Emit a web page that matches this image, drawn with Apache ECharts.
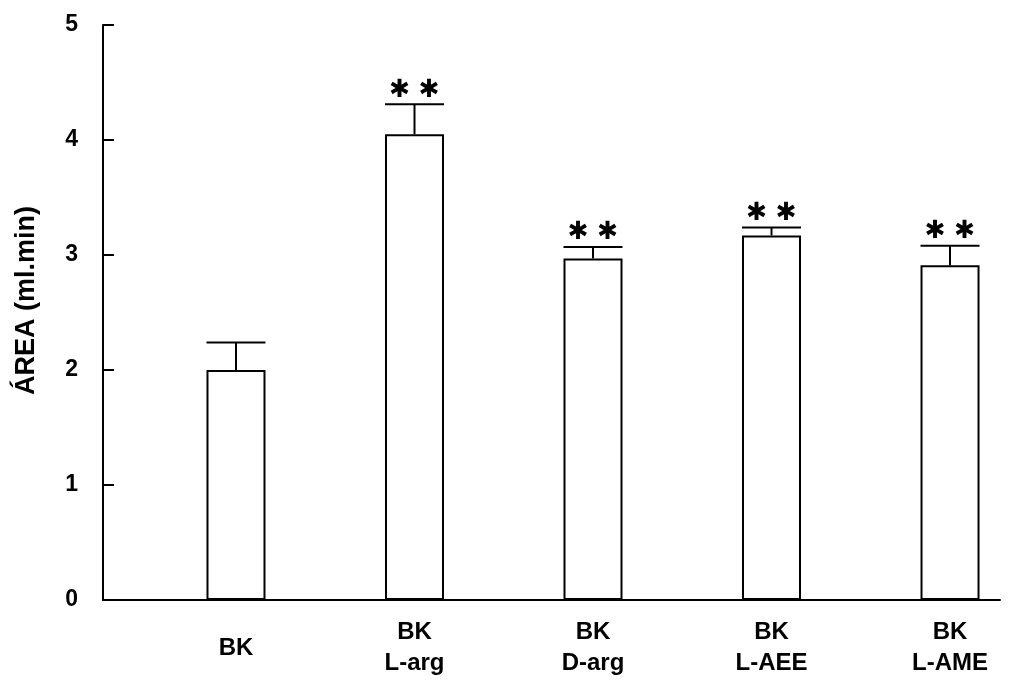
<!DOCTYPE html>
<html>
<head>
<meta charset="utf-8">
<script src="https://cdn.jsdelivr.net/npm/echarts@6/dist/echarts.min.js"></script>
<style>html,body{margin:0;padding:0;background:#fff;}#c{width:1011px;height:683px;}</style>
</head>
<body>
<div id="c"></div>
<script>
const categories = ['BK', 'BK\nL-arg', 'BK\nD-arg', 'BK\nL-AEE', 'BK\nL-AME'];
const values = [2.0, 4.05, 2.97, 3.17, 2.91];
const errors = [0.24, 0.26, 0.10, 0.07, 0.17];
const marks = ['', '✱ ✱', '✱ ✱', '✱ ✱', '✱ ✱'];
const yTicks = [0, 1, 2, 3, 4, 5];

const positions = categories.map((c, i) => i + 1);
const barData = values.map((v, i) => [positions[i], v]);
const errData = values.map((v, i) => [positions[i], v, errors[i], i]);
const BAR_W = 59;
const FONT = 'Liberation Sans, Arial, sans-serif';

const chart = echarts.init(document.getElementById('c'), null, {renderer: 'canvas'});
chart.setOption({
  backgroundColor: '#fff',
  animation: false,
  grid: {left: 103, right: 11, top: 25, bottom: 83, containLabel: false},
  xAxis: {
    type: 'value', min: 0.255, max: 5.28,
    splitLine: {show: false},
    axisLine: {show: true, onZero: false, lineStyle: {color: '#000', width: 2}},
    axisTick: {show: false},
    axisLabel: {
      customValues: positions,
      formatter: v => categories[Math.round(v) - 1] || '',
      color: '#000', fontFamily: FONT, fontWeight: 'bold', fontSize: 24,
      lineHeight: 31, verticalAlign: 'middle', margin: 48
    }
  },
  yAxis: {
    type: 'value', min: 0, max: 5, interval: 1,
    name: 'ÁREA (ml.min)', nameLocation: 'middle', nameGap: 63, nameRotate: 90,
    nameTextStyle: {color: '#000', fontFamily: FONT, fontWeight: 'bold', fontSize: 27, padding: [0, 0, 0, 24]},
    splitLine: {show: false},
    axisLine: {show: true, lineStyle: {color: '#000', width: 2}},
    axisTick: {show: true, inside: true, length: 11, lineStyle: {color: '#000', width: 2}},
    axisLabel: {
      customValues: yTicks,
      color: '#000', fontFamily: FONT, fontWeight: 'bold', fontSize: 23, margin: 25
    }
  },
  series: [
    {
      type: 'bar', data: barData, barWidth: BAR_W,
      itemStyle: {color: '#fff', borderColor: '#000', borderWidth: 2},
      z: 2
    },
    {
      type: 'custom', data: errData, z: 3,
      renderItem: function (params, api) {
        const x = api.value(0), y = api.value(1), e = api.value(2), idx = api.value(3);
        const top = api.coord([x, y]);
        const cap = api.coord([x, y + e]);
        const h = BAR_W / 2;
        const children = [
          {type: 'line', shape: {x1: top[0], y1: top[1], x2: cap[0], y2: cap[1]}, style: {stroke: '#000', lineWidth: 2}},
          {type: 'line', shape: {x1: cap[0] - h, y1: cap[1], x2: cap[0] + h, y2: cap[1]}, style: {stroke: '#000', lineWidth: 2}}
        ];
        if (marks[idx]) {
          children.push({
            type: 'text',
            style: {
              x: cap[0], y: cap[1] - 14, text: marks[idx],
              align: 'center', verticalAlign: 'middle',
              fill: '#000', font: 'bold 25px DejaVu Sans, sans-serif'
            }
          });
        }
        return {type: 'group', children: children};
      }
    }
  ]
});
</script>
</body>
</html>
